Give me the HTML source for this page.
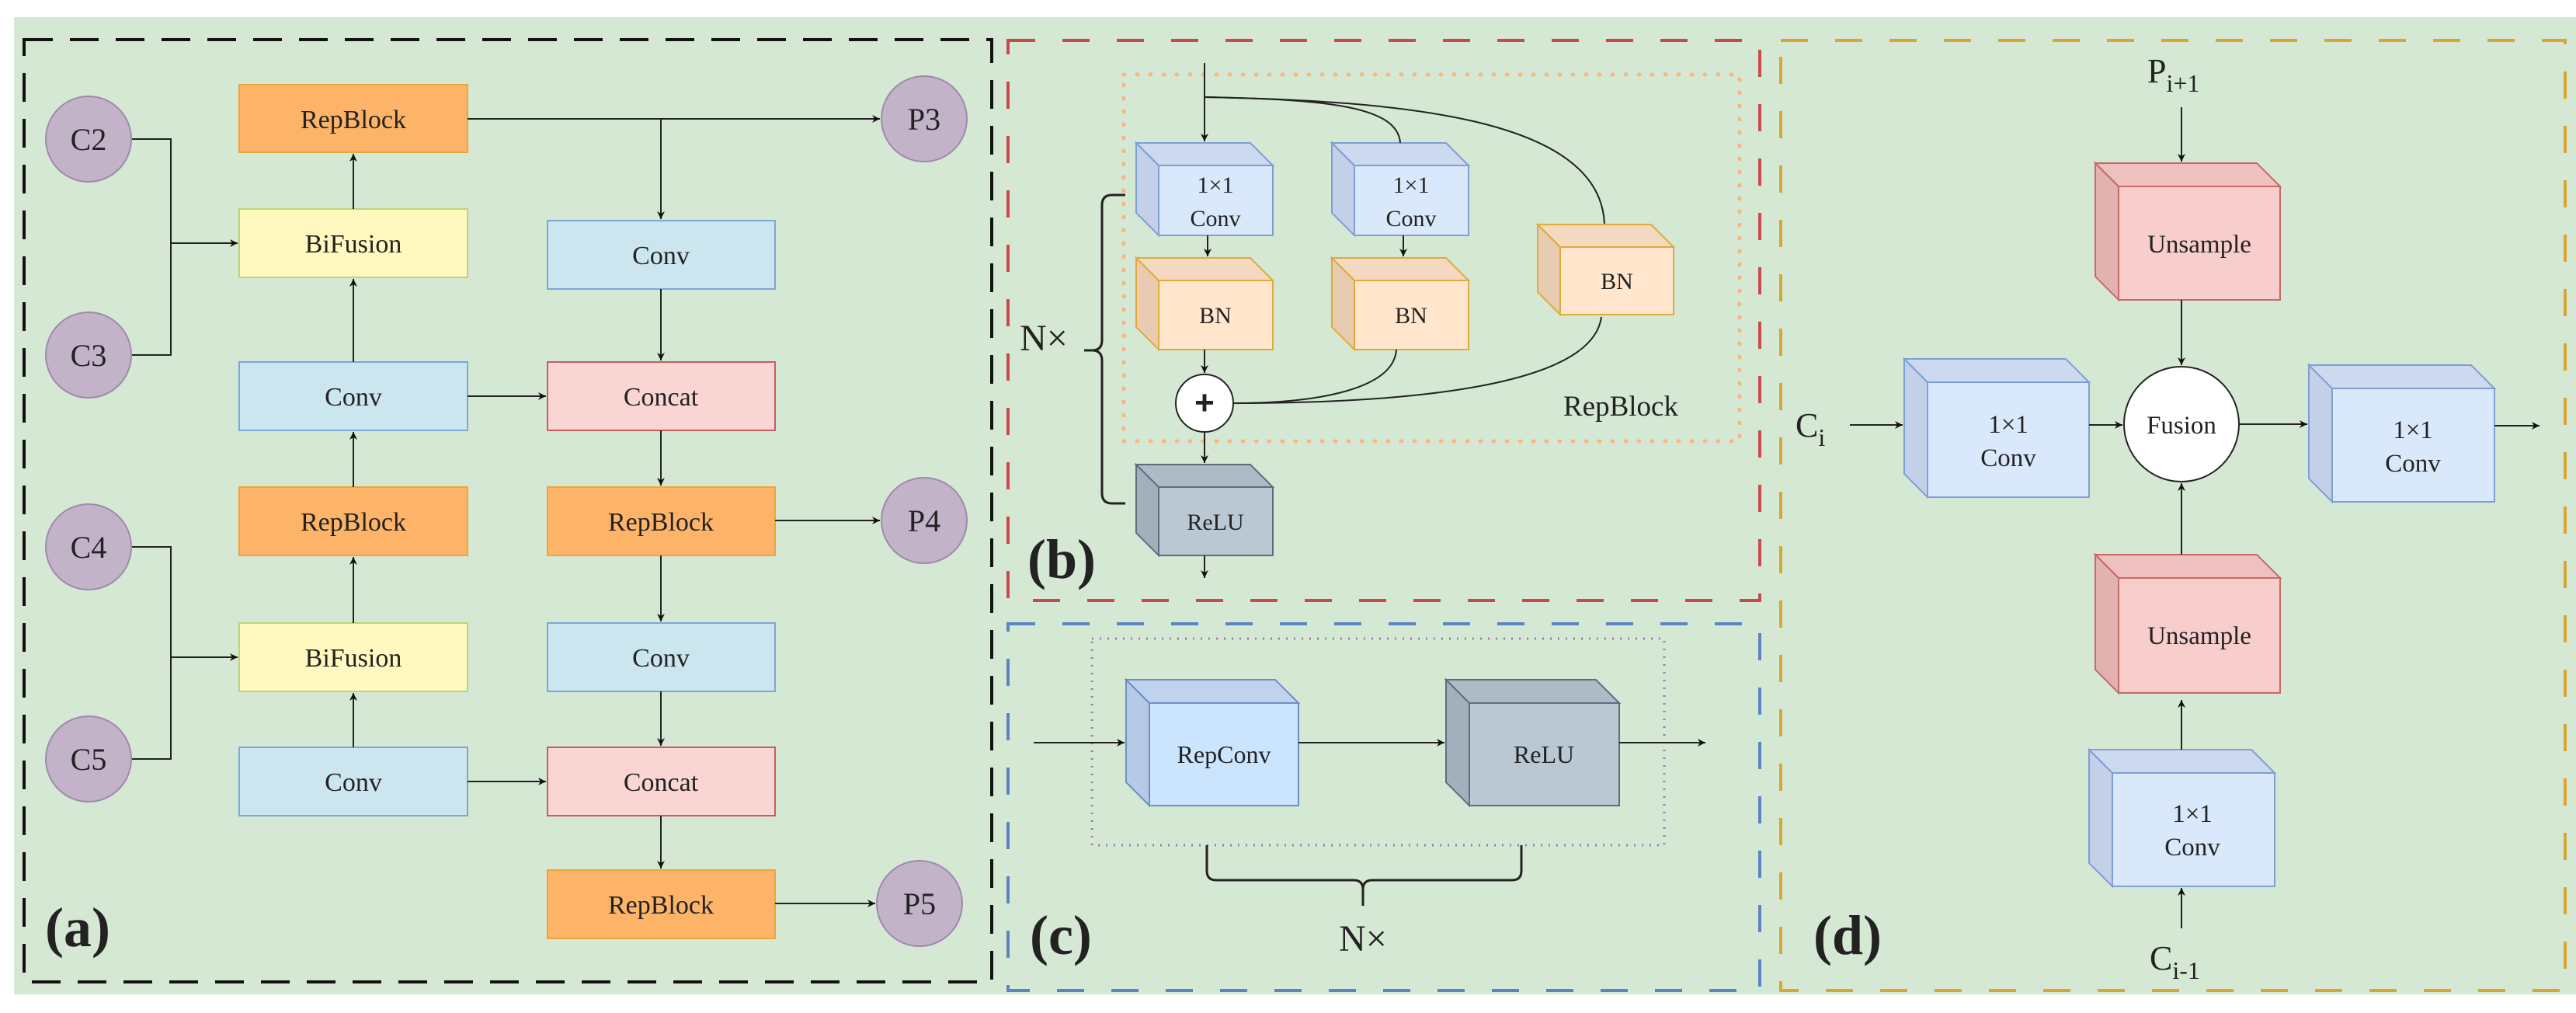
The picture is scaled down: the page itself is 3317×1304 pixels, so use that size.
<!DOCTYPE html>
<html><head><meta charset="utf-8"><style>
html,body{margin:0;padding:0;background:#fff}
svg{display:block}
svg text{font-family:"Liberation Serif","Noto Serif CJK SC","DejaVu Serif",serif !important;fill:#222}
svg text.sans{font-family:"Liberation Sans","DejaVu Sans",sans-serif !important}
</style></head><body>
<svg width="3317" height="1304" viewBox="0 0 3317 1304" xmlns="http://www.w3.org/2000/svg">
<defs>
<marker id="a" viewBox="0 0 10 10" refX="10" refY="5" markerWidth="5" markerHeight="5" orient="auto" markerUnits="strokeWidth"><path d="M0,0 L10,5 L0,10 L3,5 z" fill="#111"/></marker>
</defs>
<rect x="18" y="22" width="3299" height="1258" fill="#d5e8d4"/>

<rect x="31" y="51" width="1246" height="1213" fill="none" stroke="#111" stroke-width="4" stroke-dasharray="37,22"/>
<rect x="1298" y="52" width="968" height="721" fill="none" stroke="#c94a4a" stroke-width="4" stroke-dasharray="35,35"/>
<rect x="1298" y="803" width="968" height="472" fill="none" stroke="#5b84c4" stroke-width="4" stroke-dasharray="35,35"/>
<rect x="2293" y="52" width="1010" height="1223" fill="none" stroke="#d9a634" stroke-width="4" stroke-dasharray="35,35"/>

<g stroke="#9f8aab" stroke-width="2" fill="#c3b3c8">
<circle cx="114" cy="179" r="55"/><circle cx="114" cy="457" r="55"/>
<circle cx="114" cy="704" r="55"/><circle cx="114" cy="977" r="55"/>
<circle cx="1190" cy="153" r="55"/><circle cx="1190" cy="670" r="55"/>
<circle cx="1184" cy="1163" r="55"/>
</g>
<g font-size="40" text-anchor="middle">
<text x="114" y="193">C2</text><text x="114" y="471">C3</text>
<text x="114" y="718">C4</text><text x="114" y="991">C5</text>
<text x="1190" y="167">P3</text><text x="1190" y="684">P4</text>
<text x="1184" y="1177">P5</text>
</g>
<g stroke-width="2">
<rect x="308" y="109" width="294" height="87" fill="#fdb469" stroke="#eea43a"/>
<rect x="308" y="269" width="294" height="88" fill="#fff9c0" stroke="#b9d67a"/>
<rect x="308" y="466" width="294" height="88" fill="#cce6f0" stroke="#7ea6d7"/>
<rect x="308" y="627" width="294" height="88" fill="#fdb469" stroke="#eea43a"/>
<rect x="308" y="802" width="294" height="88" fill="#fff9c0" stroke="#b9d67a"/>
<rect x="308" y="962" width="294" height="88" fill="#cce6f0" stroke="#7ea6d7"/>
<rect x="705" y="284" width="293" height="88" fill="#cce6f0" stroke="#7ea6d7"/>
<rect x="705" y="466" width="293" height="88" fill="#f9d6d3" stroke="#cc5c5c"/>
<rect x="705" y="627" width="293" height="88" fill="#fdb469" stroke="#eea43a"/>
<rect x="705" y="802" width="293" height="88" fill="#cce6f0" stroke="#7ea6d7"/>
<rect x="705" y="962" width="293" height="88" fill="#f9d6d3" stroke="#cc5c5c"/>
<rect x="705" y="1120" width="293" height="88" fill="#fdb469" stroke="#eea43a"/>
</g>
<g font-size="34" text-anchor="middle">
<text x="455" y="165">RepBlock</text><text x="455" y="325">BiFusion</text>
<text x="455" y="522">Conv</text><text x="455" y="683">RepBlock</text>
<text x="455" y="858">BiFusion</text><text x="455" y="1018">Conv</text>
<text x="851" y="340">Conv</text><text x="851" y="522">Concat</text>
<text x="851" y="683">RepBlock</text><text x="851" y="858">Conv</text>
<text x="851" y="1018">Concat</text><text x="851" y="1176">RepBlock</text>
</g>
<g stroke="#222" stroke-width="2" fill="none">
<path d="M170,179 H220 V457 H170"/><path d="M220,313 H306" marker-end="url(#a)"/>
<path d="M170,704 H220 V977 H170"/><path d="M220,846 H306" marker-end="url(#a)"/>
<path d="M455,962 V892" marker-end="url(#a)"/>
<path d="M455,802 V717" marker-end="url(#a)"/>
<path d="M455,627 V556" marker-end="url(#a)"/>
<path d="M455,466 V359" marker-end="url(#a)"/>
<path d="M455,269 V198" marker-end="url(#a)"/>
<path d="M602,153 H1133" marker-end="url(#a)"/>
<path d="M851,153 V282" marker-end="url(#a)"/>
<path d="M851,372 V464" marker-end="url(#a)"/>
<path d="M602,510 H703" marker-end="url(#a)"/>
<path d="M851,554 V625" marker-end="url(#a)"/>
<path d="M998,670 H1133" marker-end="url(#a)"/>
<path d="M851,715 V800" marker-end="url(#a)"/>
<path d="M851,890 V960" marker-end="url(#a)"/>
<path d="M602,1006 H703" marker-end="url(#a)"/>
<path d="M851,1050 V1118" marker-end="url(#a)"/>
<path d="M998,1163 H1127" marker-end="url(#a)"/>
</g>
<text x="58" y="1218" font-size="72" font-weight="bold">(a)</text>

<rect x="1447" y="96" width="793" height="472" fill="none" stroke="#fbb680" stroke-width="5" stroke-dasharray="1,16" stroke-linecap="round"/>
<g stroke-width="2">
<g stroke="#7e9fd4">
<polygon points="1463,184 1492,213 1492,303 1463,274" fill="#c4d0e8"/>
<polygon points="1463,184 1610,184 1639,213 1492,213" fill="#cdd9ee"/>
<rect x="1492" y="213" width="147" height="90" fill="#dae8fc"/>
<polygon points="1715,184 1744,213 1744,303 1715,274" fill="#c4d0e8"/>
<polygon points="1715,184 1862,184 1891,213 1744,213" fill="#cdd9ee"/>
<rect x="1744" y="213" width="147" height="90" fill="#dae8fc"/>
</g>
<g stroke="#e0ab3c">
<polygon points="1463,332 1492,361 1492,450 1463,421" fill="#e8cbb0"/>
<polygon points="1463,332 1610,332 1639,361 1492,361" fill="#f3d9bf"/>
<rect x="1492" y="361" width="147" height="89" fill="#ffe6cc"/>
<polygon points="1715,332 1744,361 1744,450 1715,421" fill="#e8cbb0"/>
<polygon points="1715,332 1862,332 1891,361 1744,361" fill="#f3d9bf"/>
<rect x="1744" y="361" width="147" height="89" fill="#ffe6cc"/>
<polygon points="1980,289 2009,318 2009,405 1980,376" fill="#e8cbb0"/>
<polygon points="1980,289 2126,289 2155,318 2009,318" fill="#f3d9bf"/>
<rect x="2009" y="318" width="146" height="87" fill="#ffe6cc"/>
</g>
<g stroke="#5c6f80">
<polygon points="1463,598 1492,627 1492,715 1463,686" fill="#a3b0bb"/>
<polygon points="1463,598 1610,598 1639,627 1492,627" fill="#aebbc6"/>
<rect x="1492" y="627" width="147" height="88" fill="#bac8d3"/>
</g>
</g>
<g font-size="30" text-anchor="middle">
<text x="1565" y="248">1×1</text><text x="1565" y="291">Conv</text>
<text x="1817" y="248">1×1</text><text x="1817" y="291">Conv</text>
<text x="1565" y="416">BN</text><text x="1817" y="416">BN</text><text x="2082" y="372">BN</text>
<text x="1565" y="682">ReLU</text>
</g>
<g stroke="#222" stroke-width="2" fill="none">
<path d="M1551,81 V182" marker-end="url(#a)"/>
<path d="M1551,125 C1700,128 1800,135 1803,184"/>
<path d="M1551,125 C1800,130 2060,150 2066,288"/>
<path d="M1555,303 V330" marker-end="url(#a)"/>
<path d="M1807,303 V330" marker-end="url(#a)"/>
<path d="M1551,450 V480" marker-end="url(#a)"/>
<path d="M1551,556 V596" marker-end="url(#a)"/>
<path d="M1551,715 V744" marker-end="url(#a)"/>
<path d="M1588,519 C1700,519 1795,500 1798,450"/>
<path d="M1588,519 C1800,519 2050,500 2062,408"/>
<path d="M1449,251 H1432 Q1419,251 1419,264 V438 Q1419,451 1406,451 H1396 M1406,451 Q1419,451 1419,464 V635 Q1419,648 1432,648 H1449" stroke-width="3"/>
</g>
<circle cx="1551" cy="519" r="37" fill="#fff" stroke="#222" stroke-width="2"/>
<text class="sans" x="1551" y="533" font-size="44" font-weight="bold" text-anchor="middle">+</text>
<text x="2087" y="535" font-size="37" text-anchor="middle">RepBlock</text>
<text x="1344" y="451" font-size="48" text-anchor="middle">N×</text>
<text x="1323" y="744" font-size="72" font-weight="bold">(b)</text>

<rect x="1406" y="822" width="737" height="266" fill="none" stroke="#9b79b0" stroke-width="3" stroke-dasharray="2,8"/>
<g stroke-width="2">
<g stroke="#6e8fc0">
<polygon points="1450,875 1480,905 1480,1037 1450,1007" fill="#b6c9e6"/>
<polygon points="1450,875 1642,875 1672,905 1480,905" fill="#bfd3ee"/>
<rect x="1480" y="905" width="192" height="132" fill="#cce5ff"/>
</g>
<g stroke="#5c6f80">
<polygon points="1862,875 1892,905 1892,1037 1862,1007" fill="#a3b0bb"/>
<polygon points="1862,875 2055,875 2085,905 1892,905" fill="#aebbc6"/>
<rect x="1892" y="905" width="193" height="132" fill="#bac8d3"/>
</g>
</g>
<g font-size="32" text-anchor="middle">
<text x="1576" y="982">RepConv</text><text x="1988" y="982">ReLU</text>
</g>
<g stroke="#222" stroke-width="2" fill="none">
<path d="M1331,956 H1448" marker-end="url(#a)"/>
<path d="M1672,956 H1860" marker-end="url(#a)"/>
<path d="M2085,956 H2196" marker-end="url(#a)"/>
<path d="M1554,1088 V1121 Q1554,1133 1566,1133 H1743 Q1755,1133 1755,1145 V1166 M1755,1145 Q1755,1133 1767,1133 H1947 Q1959,1133 1959,1121 V1088" stroke-width="3"/>
</g>
<text x="1755" y="1224" font-size="48" text-anchor="middle">N×</text>
<text x="1326" y="1228" font-size="72" font-weight="bold">(c)</text>

<g stroke-width="2">
<g stroke="#c76a66">
<polygon points="2698,210 2728,240 2728,386 2698,356" fill="#e2b2b1"/>
<polygon points="2698,210 2906,210 2936,240 2728,240" fill="#eec0bf"/>
<rect x="2728" y="240" width="208" height="146" fill="#f8cecc"/>
<polygon points="2698,714 2728,744 2728,892 2698,862" fill="#e2b2b1"/>
<polygon points="2698,714 2906,714 2936,744 2728,744" fill="#eec0bf"/>
<rect x="2728" y="744" width="208" height="148" fill="#f8cecc"/>
</g>
<g stroke="#7e9fd4">
<polygon points="2452,462 2482,492 2482,640 2452,610" fill="#c4d0e8"/>
<polygon points="2452,462 2660,462 2690,492 2482,492" fill="#cdd9ee"/>
<rect x="2482" y="492" width="208" height="148" fill="#dae8fc"/>
<polygon points="2973,470 3003,500 3003,646 2973,616" fill="#c4d0e8"/>
<polygon points="2973,470 3182,470 3212,500 3003,500" fill="#cdd9ee"/>
<rect x="3003" y="500" width="209" height="146" fill="#dae8fc"/>
<polygon points="2690,965 2720,995 2720,1141 2690,1111" fill="#c4d0e8"/>
<polygon points="2690,965 2899,965 2929,995 2720,995" fill="#cdd9ee"/>
<rect x="2720" y="995" width="209" height="146" fill="#dae8fc"/>
</g>
</g>
<circle cx="2809" cy="546" r="74" fill="#fff" stroke="#222" stroke-width="2"/>
<g font-size="33" text-anchor="middle">
<text x="2832" y="325">Unsample</text><text x="2832" y="829">Unsample</text>
<text x="2809" y="558">Fusion</text>
<text x="2586" y="557">1×1</text><text x="2586" y="600">Conv</text>
<text x="3107" y="564">1×1</text><text x="3107" y="607">Conv</text>
<text x="2823" y="1058">1×1</text><text x="2823" y="1101">Conv</text>
</g>
<g font-size="44">
<text x="2765" y="106">P<tspan font-size="32" dy="12">i+1</tspan></text>
<text x="2312" y="562">C<tspan font-size="32" dy="12">i</tspan></text>
<text x="2768" y="1248">C<tspan font-size="32" dy="12">i-1</tspan></text>
</g>
<g stroke="#222" stroke-width="2" fill="none">
<path d="M2809,138 V208" marker-end="url(#a)"/>
<path d="M2809,386 V470" marker-end="url(#a)"/>
<path d="M2382,547 H2450" marker-end="url(#a)"/>
<path d="M2690,547 H2733" marker-end="url(#a)"/>
<path d="M2884,546 H2971" marker-end="url(#a)"/>
<path d="M3212,548 H3270" marker-end="url(#a)"/>
<path d="M2809,714 V622" marker-end="url(#a)"/>
<path d="M2809,965 V901" marker-end="url(#a)"/>
<path d="M2809,1195 V1143" marker-end="url(#a)"/>
</g>
<text x="2335" y="1228" font-size="72" font-weight="bold">(d)</text>
</svg>
</body></html>
